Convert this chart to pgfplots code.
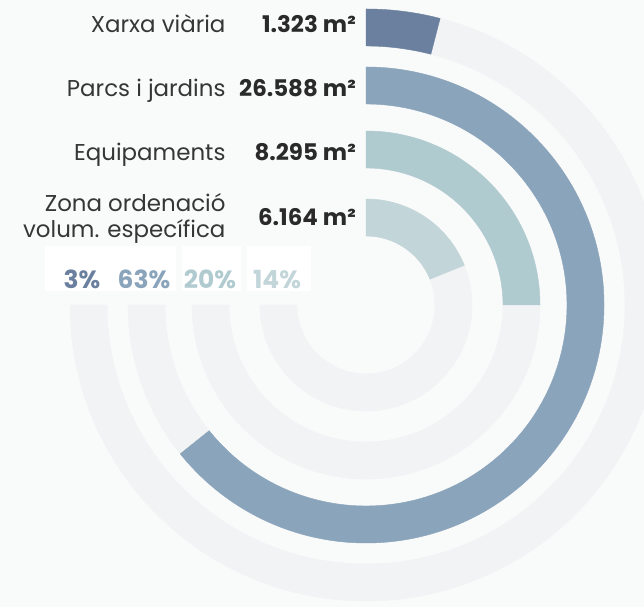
\documentclass[border=0pt]{standalone}
\usepackage{pgfplots}
\pgfplotsset{compat=1.18}
\usepackage{fontspec}
\setmainfont{Poppins}

\definecolor{bgc}{HTML}{F9FAFA}
\definecolor{trackc}{HTML}{F1F3F4}
\definecolor{cxarxa}{HTML}{6A809E}
\definecolor{cparcs}{HTML}{8AA4BB}
\definecolor{cequip}{HTML}{B0CBD0}
\definecolor{czona}{HTML}{C2D5D9}
\definecolor{txt}{HTML}{363636}
\definecolor{val}{HTML}{2A2A2A}

% a plot mark that draws nothing; the ring is drawn by the marker code
\pgfdeclareplotmark{blank}{}

% A ring segment centred on the data point; the point meta is the sweep in
% degrees, measured clockwise from the top. Args: outer radius, inner radius, colour.
\pgfplotsset{
  arcring/.style n args={3}{
    only marks, mark=blank,
    scatter, point meta=explicit, point meta min=0, point meta max=360,
    clip marker paths=true,
    scatter/@pre marker code/.code={%
      \pgfmathsetmacro\ea{90-0.36*\pgfplotspointmetatransformed}%
      \fill[#3] (90:#1bp) arc[start angle=90, end angle=\ea, radius=#1bp]
        -- (\ea:#2bp) arc[start angle=\ea, end angle=90, radius=#2bp] -- cycle;
    },
    scatter/@post marker code/.code={},
  },
}

\newcommand\namefont{\fontsize{23}{27}\selectfont}
\newcommand\valfont{\fontsize{23}{27}\selectfont\bfseries}
\newcommand\pctfont{\fontsize{25}{29}\selectfont\bfseries}

\begin{document}
\begin{tikzpicture}
\fill[bgc] (0,0) rectangle (644bp,607bp);
\begin{axis}[
  at={(0,0)}, anchor=south west,
  x=1bp, y=1bp, scale only axis,
  xmin=0, xmax=644, ymin=0, ymax=607,
  axis lines=none, ticks=none,
  clip=true,
]
% grey tracks, three quarters of a turn each
\addplot[arcring={296}{259}{trackc}] coordinates {(366,302) [270]};
\addplot[arcring={238}{201}{trackc}] coordinates {(366,302) [270]};
\addplot[arcring={174}{137}{trackc}] coordinates {(366,302) [270]};
\addplot[arcring={106}{69}{trackc}]  coordinates {(366,302) [270]};
% coloured arcs
\addplot[arcring={296}{259}{cxarxa}] coordinates {(366,302) [14.5]};
\addplot[arcring={238}{201}{cparcs}] coordinates {(366,302) [231.3]};
\addplot[arcring={174}{137}{cequip}] coordinates {(366,302) [90]};
\addplot[arcring={106}{69}{czona}]   coordinates {(366,302) [68]};

% category names
\node[anchor=base east, text=txt, font=\namefont] at (axis cs:229,574) {Xarxa viària};
\node[anchor=base east, text=txt, font=\namefont] at (axis cs:229,510) {Parcs i jardins};
\node[anchor=base east, text=txt, font=\namefont] at (axis cs:229,446) {Equipaments};
\node[anchor=base east, text=txt, font=\namefont] at (axis cs:229,395) {Zona ordenació};
\node[anchor=base east, text=txt, font=\namefont] at (axis cs:229,369) {volum. específica};
% areas
\node[anchor=base east, text=val, font=\valfont, inner xsep=0pt] at (axis cs:356,574) {1.323 m²};
\node[anchor=base east, text=val, font=\valfont, inner xsep=0pt] at (axis cs:356,510) {26.588 m²};
\node[anchor=base east, text=val, font=\valfont, inner xsep=0pt] at (axis cs:356,446) {8.295 m²};
\node[anchor=base east, text=val, font=\valfont, inner xsep=0pt] at (axis cs:356,381) {6.164 m²};
% shares
\fill[white] (axis cs:45,316) rectangle (axis cs:176,361);
\fill[white] (axis cs:182,316) rectangle (axis cs:241,361);
\fill[white] (axis cs:247,316) rectangle (axis cs:311,361);
\node[anchor=base, text=cxarxa, font=\pctfont] at (axis cs:82,318) {3\%};
\node[anchor=base, text=cparcs, font=\pctfont] at (axis cs:144,318) {63\%};
\node[anchor=base, text=cequip, font=\pctfont] at (axis cs:210,318) {20\%};
\node[anchor=base, text=czona, font=\pctfont] at (axis cs:277,318) {14\%};
\coordinate (SW) at (rel axis cs:0,0);
\coordinate (NE) at (rel axis cs:1,1);
\end{axis}
\pgfresetboundingbox
\path[use as bounding box] (SW) rectangle (NE);
\end{tikzpicture}
\end{document}
